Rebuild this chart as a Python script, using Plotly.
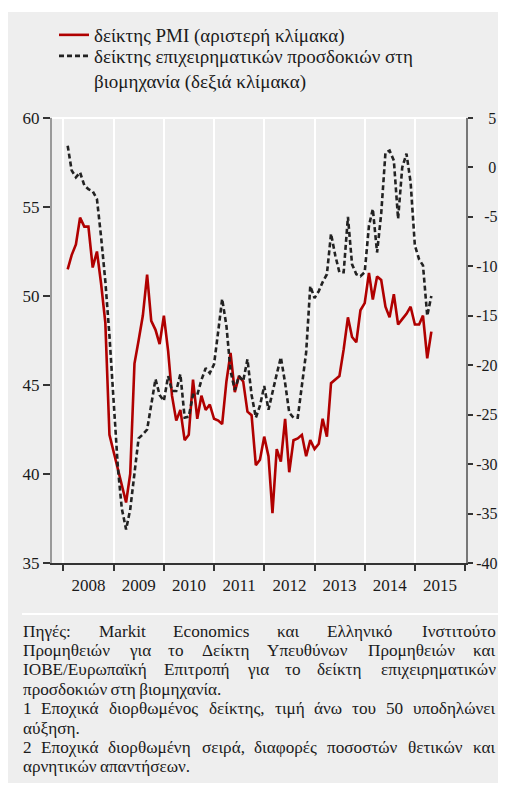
import pandas as pd
import plotly.graph_objects as go

# ---------------- data ----------------
months = pd.date_range("2008-02-01", "2015-05-01", freq="MS")

pmi = [
    51.5, 52.3, 52.9, 54.4, 53.9, 53.9, 51.6, 52.5, 50.7, 48.5, 42.2,
    41.2, 40.2, 39.3, 38.4, 40.0, 46.2, 47.5, 48.9, 51.2, 48.6, 48.1, 47.3,
    48.9, 46.9, 44.4, 43.0, 43.6, 41.9, 42.2, 45.3, 43.1, 44.4, 43.6, 43.9,
    43.1, 43.0, 42.8, 45.2, 46.8, 44.6, 45.5, 45.2, 43.5, 43.3, 40.5, 40.8,
    42.1, 41.0, 37.8, 41.4, 40.7, 43.1, 40.1, 41.9, 42.0, 42.2, 41.0, 41.9,
    41.4, 41.7, 43.1, 42.1, 45.1, 45.3, 45.5, 47.0, 48.8, 47.7, 47.4, 49.2,
    49.6, 51.3, 49.8, 51.1, 50.9, 49.4, 48.8, 50.1, 48.4, 48.7, 49.0, 49.4,
    48.4, 48.4, 48.9, 46.5, 48.0,
]

esi = [
    2.2, -0.3, -1.0, -0.5, -1.8, -2.2, -2.4, -3.2, -7.0, -11.5, -17.0,
    -24.4, -30.5, -34.5, -36.6, -34.6, -30.9, -27.4, -27.0, -26.5, -24.0, -21.4, -23.0,
    -23.6, -21.1, -22.6, -22.6, -20.9, -25.3, -25.2, -23.0, -23.0, -21.5, -20.3, -20.8,
    -19.9, -16.5, -13.3, -16.0, -20.6, -22.5, -21.1, -21.6, -19.4, -23.0, -25.3, -24.1,
    -22.1, -24.5, -22.6, -20.9, -19.2, -21.8, -24.8, -25.3, -25.3, -22.1, -18.7, -12.0,
    -13.2, -12.5, -11.6, -10.8, -6.7, -8.9, -10.6, -10.6, -5.0, -9.8, -10.8, -11.0,
    -10.6, -5.9, -4.2, -8.6, -4.7, 1.5, 1.7, 0.7, -5.2, 0.0, 1.4, -1.5,
    -7.9, -9.3, -9.9, -15.0, -13.0,
]

left_ticks = [35, 40, 45, 50, 55, 60]
right_ticks = [-40, -35, -30, -25, -20, -15, -10, -5, 0, 5]

name_pmi = "δείκτης PMI (αριστερή κλίμακα)"
name_esi = "δείκτης επιχειρηματικών προσδοκιών στη<br>βιομηχανία (δεξιά κλίμακα)"

# footer: (words, justified?)
footer_lines = [
    (["Πηγές:", "Markit", "Economics", "και", "Ελληνικό", "Ινστιτούτο"], True),
    (["Προμηθειών", "για", "το", "Δείκτη", "Υπευθύνων", "Προμηθειών", "και"], True),
    (["ΙΟΒΕ/Ευρωπαϊκή", "Επιτροπή", "για", "το", "δείκτη", "επιχειρηματικών"], True),
    (["προσδοκιών", "στη", "βιομηχανία."], False),
    (["1", "Εποχικά", "διορθωμένος", "δείκτης,", "τιμή", "άνω", "του", "50", "υποδηλώνει"], True),
    (["αύξηση."], False),
    (["2", "Εποχικά", "διορθωμένη", "σειρά,", "διαφορές", "ποσοστών", "θετικών", "και"], True),
    (["αρνητικών", "απαντήσεων."], False),
]

# approximate glyph advance widths (em) of the serif font, used to justify the footer
GLYPH_EM = {
    ' ': 0.25, ',': 0.25, '.': 0.25, ':': 0.278, '/': 0.278, '(': 0.333, ')': 0.333,
    '0': 0.5, '1': 0.5, '2': 0.5, '5': 0.5,
    'M': 0.889, 'a': 0.444, 'r': 0.333, 'k': 0.5, 'i': 0.278, 't': 0.278, 'E': 0.611,
    'c': 0.444, 'o': 0.5, 'n': 0.5, 'm': 0.778, 's': 0.389,
    'Π': 0.722, 'Ε': 0.611, 'Ι': 0.333, 'Δ': 0.612, 'Υ': 0.722, 'Ο': 0.722, 'Β': 0.667,
    'α': 0.531, 'ά': 0.531, 'β': 0.5, 'γ': 0.45, 'δ': 0.5, 'ε': 0.426, 'έ': 0.426,
    'ζ': 0.44, 'η': 0.5, 'ή': 0.5, 'θ': 0.5, 'ι': 0.278, 'ί': 0.278, 'ϊ': 0.278,
    'κ': 0.5, 'λ': 0.5, 'μ': 0.54, 'ν': 0.458, 'ξ': 0.44, 'ο': 0.5, 'ό': 0.5,
    'π': 0.53, 'ρ': 0.5, 'σ': 0.53, 'ς': 0.43, 'τ': 0.43, 'υ': 0.5, 'ύ': 0.5,
    'φ': 0.6, 'χ': 0.48, 'ψ': 0.64, 'ω': 0.69, 'ώ': 0.69,
}

# ---------------- layout helpers ----------------
OFF = 8                      # browser body margin
VIS_RIGHT = 497              # last visible screen column
W, H = 490, 775
L, T = 44, 110
R = W - (466 - OFF)          # right axis at x=466 on screen
B = H - 555                  # plot bottom at 563 px on screen
PW, PH = W - L - R, H - T - B


def sx(x):  # screen pixel -> paper x
    return (x - OFF - L) / PW


def sy(y):  # screen pixel -> paper y
    return (H - B - (y - OFF)) / PH


def text_w(s, size):
    return sum(GLYPH_EM.get(ch, 0.5) for ch in s) * size


FONT = "Liberation Serif"
TXT = "#1a1a1a"
BG = "#eeeeee"

fig = go.Figure()
fig.add_trace(go.Scatter(
    x=months, y=pmi, name=name_pmi, mode="lines",
    line=dict(color="#b00000", width=2.6), legend="legend",
))
fig.add_trace(go.Scatter(
    x=months, y=esi, name=name_esi, mode="lines", yaxis="y2",
    line=dict(color="#222222", width=2.6, dash="5px,3px"), legend="legend2",
))

legend_common = dict(
    xanchor="left", yanchor="top", bgcolor="rgba(0,0,0,0)",
    font=dict(family=FONT, size=19, color=TXT), valign="top",
    borderwidth=0,
)

fig.update_layout(
    template="none",
    autosize=False,
    width=W, height=H,
    margin=dict(l=L, r=R, t=T, b=B, pad=0, autoexpand=False),
    paper_bgcolor=BG, plot_bgcolor=BG,
    font=dict(family=FONT, size=17, color=TXT),
    showlegend=True,
    legend=dict(x=sx(54), y=sy(16), **legend_common),
    legend2=dict(x=sx(54), y=sy(37), **legend_common),
    xaxis=dict(
        type="date", range=["2007-10-10", "2016-01-08"], automargin=False,
        tick0="2008-01-01", dtick="M12", tickformat="%Y", ticklabelmode="period",
        ticks="outside", ticklen=6, tickwidth=1.5, tickcolor="#333",
        showgrid=True, gridcolor="white", gridwidth=2,
        showline=True, linecolor="#333", linewidth=1.5,
        zeroline=False, tickfont=dict(family=FONT, size=17, color=TXT),
    ),
    yaxis=dict(
        range=[35, 60], tickvals=left_ticks, automargin=False,
        ticks="outside", ticklen=7, tickwidth=1.5, tickcolor="#333",
        showgrid=False, zeroline=False,
        showline=True, linecolor="#999", linewidth=2,
        tickfont=dict(family=FONT, size=17, color=TXT),
    ),
    yaxis2=dict(
        range=[-40, 5], overlaying="y", side="right", tickvals=right_ticks,
        automargin=False,
        ticktext=[("\u2007\u2008" + str(v)) if v >= 0 else
                  (("\u2007" + str(v)) if v > -10 else str(v)) for v in right_ticks],
        ticks="outside", ticklen=5, tickwidth=1.5, tickcolor="#333",
        showgrid=False, zeroline=False,
        showline=True, linecolor="#777", linewidth=2,
        tickfont=dict(family=FONT, size=16, color=TXT),
    ),
)

shapes = [
    # thin white strip at the top of the grey panel
    dict(type="rect", xref="paper", yref="paper", x0=sx(0), x1=sx(520), y0=sy(0), y1=sy(12),
         fillcolor="white", line=dict(width=0), layer="below"),
    # white top border of plot area
    dict(type="line", xref="paper", yref="paper", x0=0, x1=1, y0=1, y1=1,
         line=dict(color="white", width=2)),
    # footer separator
    dict(type="line", xref="paper", yref="paper", x0=sx(22), x1=sx(520), y0=sy(614), y1=sy(614),
         line=dict(color="white", width=2)),
]
fig.update_layout(shapes=shapes)

FS = 17.2
X_LEFT, X_RIGHT = 23, VIS_RIGHT - 1
annotations = []
y0, dy = 631, 19.4


def add_text(txt, x, y, anchor):
    annotations.append(dict(
        text=txt, x=sx(x), y=sy(y), xref="paper", yref="paper",
        xanchor=anchor, yanchor="middle", showarrow=False,
        borderpad=0, borderwidth=0,
        font=dict(family=FONT, size=FS, color=TXT)))


for i, (words, justified) in enumerate(footer_lines):
    yy = y0 + i * dy
    if not justified:
        add_text("\u2009".join(words), X_LEFT, yy, "left")
        continue
    widths = [text_w(w, FS) for w in words]
    gap = (X_RIGHT - X_LEFT - sum(widths)) / (len(words) - 1)
    x = X_LEFT
    for j, (w, wd) in enumerate(zip(words, widths)):
        if j == len(words) - 1:
            add_text(w, X_RIGHT, yy, "right")
        else:
            add_text(w, x, yy, "left")
        x += wd + gap
fig.update_layout(annotations=annotations)

fig.write_html("out.html", config={"responsive": False})
